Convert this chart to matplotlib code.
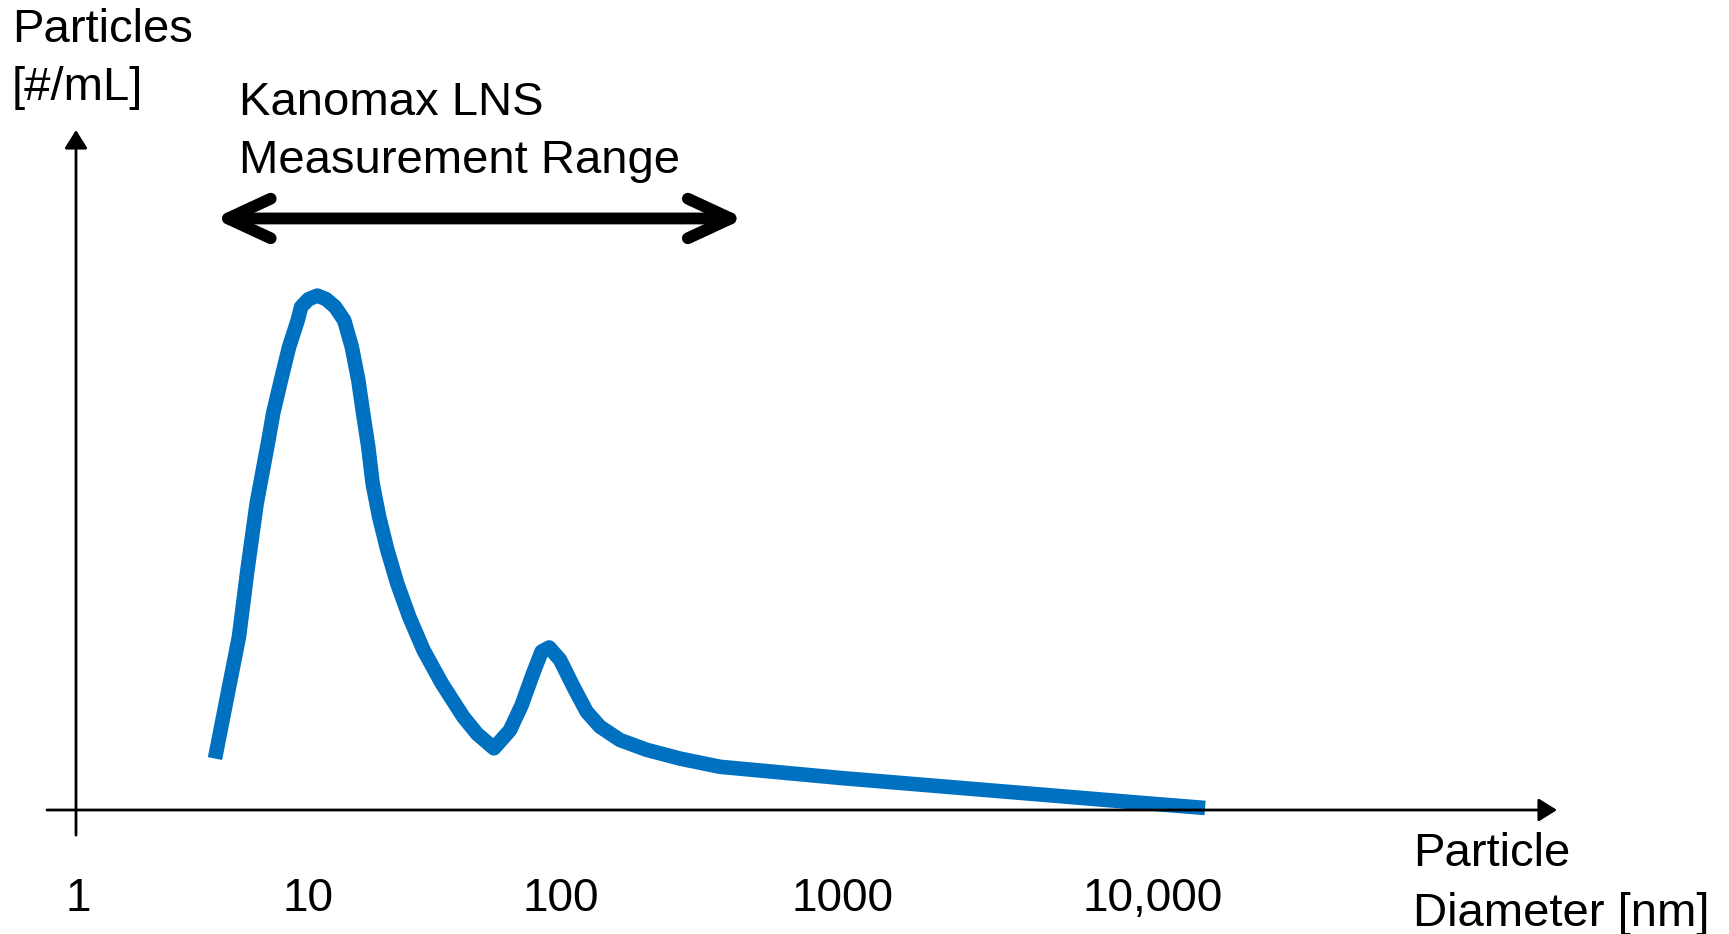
import numpy as np
import matplotlib
matplotlib.use("Agg")
import matplotlib.pyplot as plt

plt.rcParams['font.family'] = ['Liberation Sans', 'DejaVu Sans']

# Particle size distribution (schematic), diameter in nm vs relative concentration
diameter_nm = [3.94, 4.39, 5.01, 5.45, 5.98, 6.73, 7.06, 7.63, 8.27, 9.02,
               9.33, 10.04, 10.9, 11.8, 12.8, 13.9, 14.9, 15.8, 16.5, 17.3,
               18.0, 19.1, 20.6, 22.5, 25.1, 28.6, 33.8, 41.1, 46.6, 54.3,
               62.8, 69.9, 77.6, 83.8, 89.8, 99.1, 110.6, 123.4, 137.6, 162.2,
               201.8, 264.8, 367.9, 1000, 10000, 14700]
particles = [10.0, 20.7, 33.7, 46.6, 59.6, 71.9, 77.2, 83.6, 90.0, 95.2,
             97.8, 99.3, 100.0, 99.3, 97.8, 95.2, 90.0, 83.6, 77.2, 70.6,
             63.5, 57.0, 50.5, 44.1, 37.6, 31.1, 24.6, 18.1, 14.8, 12.0,
             15.5, 20.4, 26.6, 30.8, 31.6, 29.2, 24.0, 19.1, 16.2, 13.6,
             11.7, 10.0, 8.4, 6.2, 1.2, 0.4]

tick_values = [1, 10, 100, 1000, 10000]
tick_labels = ['1', '10', '100', '1000', '10,000']

# measurement range of the instrument (nm)
range_nm = [3.9, 450]
range_level = 115

# the schematic's diameter axis is not evenly spaced per decade
knot_log = [-1, 0, 1, 2, 3, 4, 5, 6]
knot_pos = [-152, 78, 308, 561, 842, 1153, 1464, 1775]


def forward(d):
    d = np.clip(np.asarray(d, dtype=float), 1e-6, None)
    return np.interp(np.log10(d), knot_log, knot_pos)


def inverse(p):
    return 10 ** np.interp(p, knot_pos, knot_log)


fig = plt.figure(figsize=(17.29, 9.34), dpi=100)
ax = fig.add_axes([76 / 1729, 124 / 934, 1481 / 1729, 680 / 934])
ax.set_xscale('function', functions=(forward, inverse))
ax.set_xlim(0.98, 199000)
ax.set_ylim(0, 132.2)

ax.plot(diameter_nm, particles, color='#0070C0', lw=10.5,
        solid_capstyle='butt', solid_joinstyle='round', clip_on=False)

# axes drawn as arrows
ax.annotate('', xy=(1.0, 0), xytext=(-0.0196, 0), xycoords='axes fraction',
            arrowprops=dict(arrowstyle='-|>,head_length=0.4,head_width=0.25',
                            mutation_scale=28, lw=2, color='black',
                            shrinkA=0, shrinkB=0))
ax.annotate('', xy=(0, 1.0), xytext=(0, -0.037), xycoords='axes fraction',
            arrowprops=dict(arrowstyle='-|>,head_length=0.4,head_width=0.25',
                            mutation_scale=28, lw=2, color='black',
                            shrinkA=0, shrinkB=0))

# measurement range arrow
ax.annotate('', xy=(range_nm[1], range_level), xytext=(range_nm[0], range_level),
            xycoords='data', annotation_clip=False,
            arrowprops=dict(arrowstyle='<->,head_length=0.41,head_width=0.19',
                            mutation_scale=75, lw=8.5, color='black',
                            shrinkA=0, shrinkB=0, capstyle='round',
                            joinstyle='round'))

for s in ax.spines.values():
    s.set_visible(False)
ax.set_xticks(tick_values)
ax.set_xticklabels(tick_labels, fontsize=33)
ax.xaxis.set_minor_locator(matplotlib.ticker.NullLocator())
ax.tick_params(axis='x', length=0, pad=48)
ax.set_yticks([])
ax.patch.set_visible(False)

fs = 34
fig.text(12 / 1729, 1 - 42 / 934, 'Particles', fontsize=fs, va='baseline')
fig.text(12 / 1729, 1 - 100 / 934, '[#/mL]', fontsize=fs, va='baseline')
fig.text(239 / 1729, 1 - 115 / 934, 'Kanomax LNS', fontsize=fs, va='baseline')
fig.text(239 / 1729, 1 - 173 / 934, 'Measurement Range', fontsize=fs, va='baseline')
fig.text(1413 / 1729, 1 - 866 / 934, 'Particle', fontsize=fs, va='baseline')
fig.text(1413 / 1729, 1 - 926 / 934, 'Diameter [nm]', fontsize=fs, va='baseline')

fig.savefig('out.png', dpi=100, facecolor='white')
